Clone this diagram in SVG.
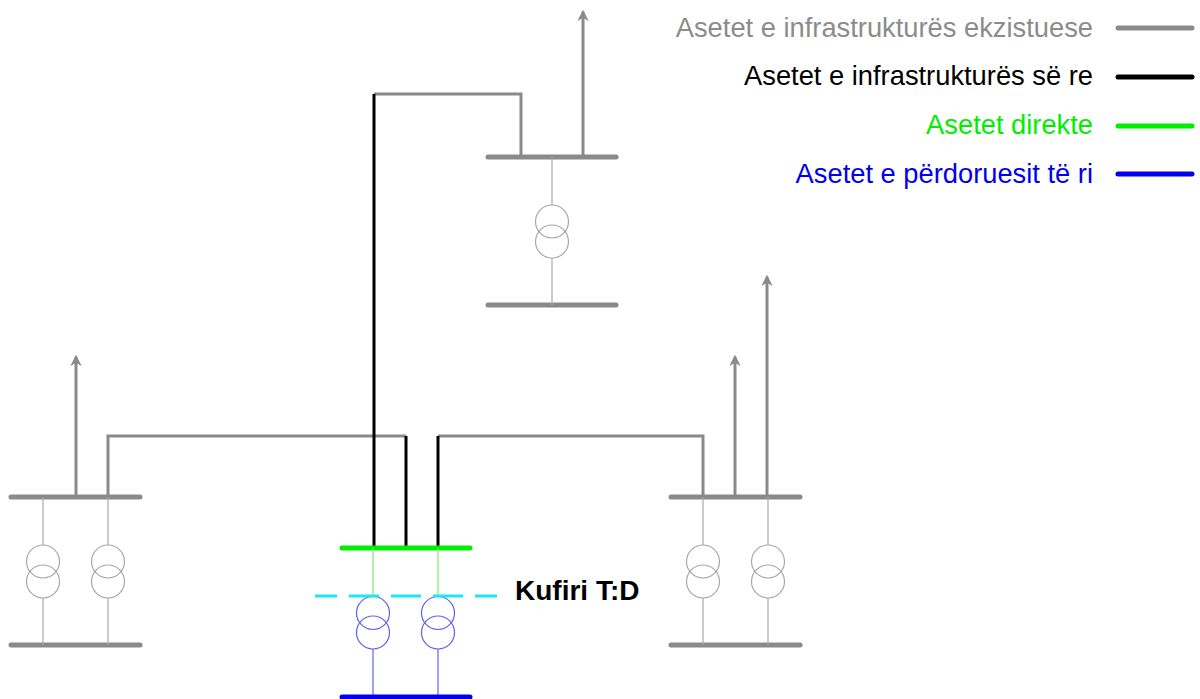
<svg xmlns="http://www.w3.org/2000/svg" width="1200" height="699" viewBox="0 0 1200 699">
<defs>
<marker id="arr" viewBox="0 0 10 10" refX="8" refY="5" markerWidth="3.8" markerHeight="3.8" orient="auto" markerUnits="strokeWidth">
<path d="M0,0 L10,5 L0,10 L3,5 Z" fill="#8a8a8a"/>
</marker>
</defs>
<style>
.bus{stroke:#8a8a8a;stroke-width:5;stroke-linecap:round;fill:none}
.feed{stroke:#8a8a8a;stroke-width:3;fill:none;stroke-linejoin:miter}
.newl{stroke:#000;stroke-width:3;fill:none}
.thin{stroke:#a8a8a8;stroke-width:1.2;fill:none}
.tr{stroke:#a8a8a8;stroke-width:1.2;fill:none}
.gbus{stroke:#00ee00;stroke-width:5;stroke-linecap:round}
.bbus{stroke:#0000ee;stroke-width:5;stroke-linecap:round}
.gthin{stroke:#70f070;stroke-width:1.2}
.bthin{stroke:#6060f0;stroke-width:1.2;fill:none}
.leg{font-family:"Liberation Sans",Arial,sans-serif;font-size:27.3px;text-anchor:end}
.legl{stroke-width:5;stroke-linecap:round}
</style>

<g id="connectors">
<path class="feed" d="M521 157 V94 H374"/>
<path class="feed" d="M108 497 V436 H406"/>
<path class="feed" d="M703 497 V436 H438"/>
<line class="newl" x1="374" y1="94" x2="374" y2="548"/>
<line class="newl" x1="406" y1="436" x2="406" y2="548"/>
<line class="newl" x1="438" y1="436" x2="438" y2="548"/>
<line class="feed" x1="583" y1="157" x2="583" y2="12" marker-end="url(#arr)"/>
<line class="feed" x1="76" y1="497" x2="76" y2="357" marker-end="url(#arr)"/>
<line class="feed" x1="735" y1="497" x2="735" y2="357" marker-end="url(#arr)"/>
<line class="feed" x1="767" y1="497" x2="767" y2="277" marker-end="url(#arr)"/>
</g>

<g id="sub-top">
<line class="bus" x1="488" y1="157" x2="616" y2="157"/>
<line class="bus" x1="488" y1="305" x2="616" y2="305"/>
<line class="thin" x1="552" y1="157" x2="552" y2="205"/>
<circle class="tr" cx="552" cy="221.5" r="16.5"/>
<circle class="tr" cx="552" cy="241.5" r="16.5"/>
<line class="thin" x1="552" y1="258" x2="552" y2="305"/>
</g>

<g id="sub-left">
<line class="bus" x1="11" y1="497" x2="140" y2="497"/>
<line class="bus" x1="11" y1="645" x2="140" y2="645"/>
<line class="thin" x1="43" y1="497" x2="43" y2="545"/>
<circle class="tr" cx="43" cy="561.5" r="16.5"/>
<circle class="tr" cx="43" cy="581.5" r="16.5"/>
<line class="thin" x1="43" y1="598" x2="43" y2="645"/>
<line class="thin" x1="108" y1="497" x2="108" y2="545"/>
<circle class="tr" cx="108" cy="561.5" r="16.5"/>
<circle class="tr" cx="108" cy="581.5" r="16.5"/>
<line class="thin" x1="108" y1="598" x2="108" y2="645"/>
</g>

<g id="sub-right">
<line class="bus" x1="671" y1="497" x2="800" y2="497"/>
<line class="bus" x1="671" y1="645" x2="800" y2="645"/>
<line class="thin" x1="703" y1="497" x2="703" y2="545"/>
<circle class="tr" cx="703" cy="561.5" r="16.5"/>
<circle class="tr" cx="703" cy="581.5" r="16.5"/>
<line class="thin" x1="703" y1="598" x2="703" y2="645"/>
<line class="thin" x1="768" y1="497" x2="768" y2="545"/>
<circle class="tr" cx="768" cy="561.5" r="16.5"/>
<circle class="tr" cx="768" cy="581.5" r="16.5"/>
<line class="thin" x1="768" y1="598" x2="768" y2="645"/>
</g>

<g id="sub-new">
<line class="gbus" x1="342" y1="548" x2="470" y2="548"/>
<line class="gthin" x1="373" y1="548" x2="373" y2="597"/>
<line class="gthin" x1="438" y1="548" x2="438" y2="597"/>
<circle class="bthin" cx="373" cy="613" r="16.5"/>
<circle class="bthin" cx="373" cy="632.5" r="16.5"/>
<circle class="bthin" cx="438" cy="613" r="16.5"/>
<circle class="bthin" cx="438" cy="632.5" r="16.5"/>
<line class="bthin" x1="373" y1="649" x2="373" y2="697"/>
<line class="bthin" x1="438" y1="649" x2="438" y2="697"/>
<line class="bbus" x1="342" y1="697" x2="470" y2="697"/>
</g>

<g id="boundary">
<line x1="315" y1="596" x2="497" y2="596" stroke="#1ee6f6" stroke-width="3" stroke-dasharray="30 12" stroke-dashoffset="8"/>
<text x="515" y="600" font-family="'Liberation Sans',Arial,sans-serif" font-size="28" font-weight="bold" fill="#000">Kufiri T:D</text>
</g>

<g id="legend">
<text class="leg" x="1093" y="37" fill="#8c8c8c">Asetet e infrastrukturës ekzistuese</text>
<line class="legl" x1="1118" y1="28" x2="1192" y2="28" stroke="#8a8a8a"/>
<text class="leg" x="1093" y="85" fill="#000">Asetet e infrastrukturës së re</text>
<line class="legl" x1="1118" y1="77" x2="1192" y2="77" stroke="#000"/>
<text class="leg" x="1093" y="134" fill="#00ee00">Asetet direkte</text>
<line class="legl" x1="1118" y1="126" x2="1192" y2="126" stroke="#00ee00"/>
<text class="leg" x="1093" y="183" fill="#0000ee">Asetet e përdoruesit të ri</text>
<line class="legl" x1="1118" y1="174" x2="1192" y2="174" stroke="#0000ee"/>
</g>
</svg>
